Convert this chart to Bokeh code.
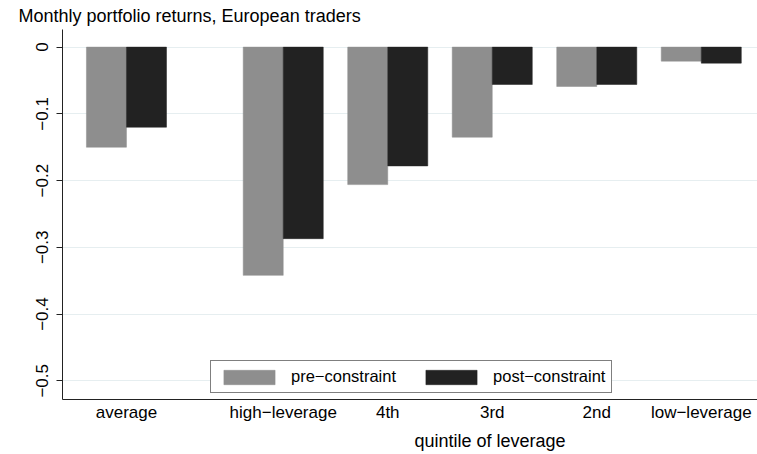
from bokeh.plotting import figure
from bokeh.models import FixedTicker, Legend, LegendItem, Range1d, Title
from bokeh.embed import file_html
from bokeh.resources import INLINE

# ---- data ----
categories = ["average", "high\u2212leverage", "4th", "3rd", "2nd", "low\u2212leverage"]
pre_constraint = [-0.150, -0.342, -0.206, -0.135, -0.059, -0.021]
post_constraint = [-0.120, -0.287, -0.178, -0.056, -0.056, -0.024]
series_names = ["pre\u2212constraint", "post\u2212constraint"]
y_ticks = [0, -0.1, -0.2, -0.3, -0.4, -0.5]
y_tick_labels = ["0", "\u22120.1", "\u22120.2", "\u22120.3", "\u22120.4", "\u22120.5"]
title_regular = "Monthly portfolio returns, "
title_bold = "European traders"
x_title = "quintile of leverage"

# ---- layout ----
FONT = "Liberation Sans"
GRAY = "#8e8e8e"
DARK = "#222222"
positions = [0.0] + [1.5 + i for i in range(len(categories) - 1)]
bar_w = 0.383
x0, x1 = -0.612, 6.038
y0, y1 = -0.528, 0.0264

p = figure(width=757, height=454, output_backend="svg", toolbar_location=None,
           x_range=Range1d(x0, x1), y_range=Range1d(y0, y1),
           min_border_left=62, min_border_right=0, min_border_top=29, min_border_bottom=55)
p.outline_line_color = None
p.background_fill_color = "white"
p.border_fill_color = "white"

r_pre = p.vbar(x=[x - bar_w / 2 for x in positions], width=bar_w, top=0, bottom=pre_constraint,
               fill_color=GRAY, line_color=GRAY, line_width=0.5)
r_post = p.vbar(x=[x + bar_w / 2 for x in positions], width=bar_w, top=0, bottom=post_constraint,
                fill_color=DARK, line_color=DARK, line_width=0.5)

# axes
xa = p.xaxis[0]
xa.ticker = FixedTicker(ticks=positions)
xa.major_label_overrides = dict(zip(positions, categories))
xa.major_tick_out = 0
xa.major_tick_in = 0
xa.minor_tick_out = 0
xa.minor_tick_in = 0
xa.major_label_standoff = 3
xa.major_label_text_font = FONT
xa.major_label_text_font_size = "17px"
xa.major_label_text_color = "black"
xa.axis_line_color = "#222222"

ya = p.yaxis[0]
ya.ticker = FixedTicker(ticks=y_ticks)
ya.major_label_overrides = dict(zip(y_ticks, y_tick_labels))
ya.major_label_orientation = "vertical"
ya.major_tick_out = 6
ya.major_tick_in = 0
ya.minor_tick_out = 0
ya.minor_tick_in = 0
ya.major_label_standoff = 8
ya.major_label_text_font = FONT
ya.major_label_text_font_size = "17px"
ya.major_label_text_color = "black"
ya.axis_line_color = "#222222"
ya.major_tick_line_color = "#222222"

p.xgrid.visible = False
p.ygrid.grid_line_color = "#e6eef0"
p.ygrid.grid_line_width = 1

# legend
legend = Legend(items=[LegendItem(label=series_names[0], renderers=[r_pre]),
                       LegendItem(label=series_names[1], renderers=[r_post])],
                location=(148, 6), orientation="horizontal",
                border_line_color="black", border_line_width=1,
                background_fill_color="white", background_fill_alpha=1,
                padding=6, margin=0, spacing=23, label_standoff=10,
                glyph_width=64, glyph_height=18, label_height=18,
                label_text_font=FONT, label_text_font_size="16.5px",
                label_text_baseline="middle", label_text_color="black")
p.add_layout(legend)

# title on one line, starting left of the plot area
p.title = Title(text=title_regular + title_bold, align="left", offset=-44, standoff=7,
                text_font=FONT, text_font_size="18px", text_font_style="normal",
                text_color="black")
# x axis title, centred over the quintile groups
p.add_layout(Title(text=x_title, align="left", offset=352, standoff=8,
                   text_font=FONT, text_font_size="18px", text_font_style="normal",
                   text_color="black"), "below")

open("out.html", "w").write(file_html(p, INLINE))
